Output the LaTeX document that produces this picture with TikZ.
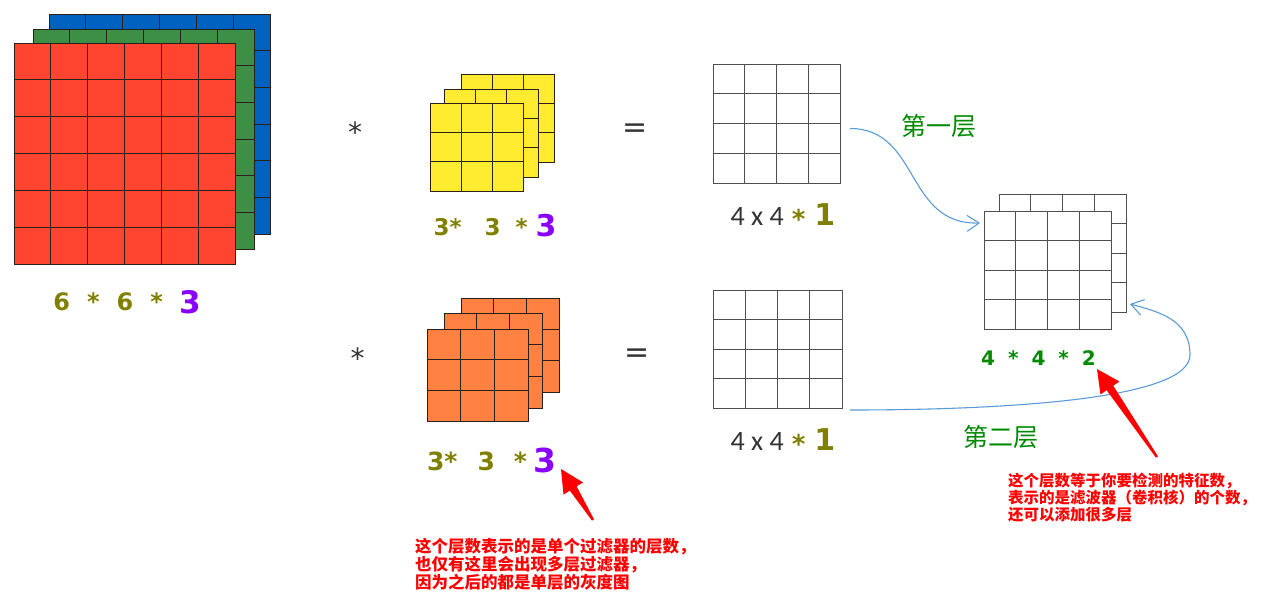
\documentclass[tikz,border=0pt]{standalone}
\usepackage{fontspec}
\setmainfont{DejaVu Sans}
\newfontfamily\calfont{Carlito}
\newfontfamily\cjkfont{Noto Sans CJK SC}
\usetikzlibrary{positioning,calc,arrows.meta}
\definecolor{inred}{HTML}{FF4530}
\definecolor{ingreen}{HTML}{3D8F45}
\definecolor{inblue}{HTML}{0062C0}
\definecolor{kyellow}{HTML}{FFEC30}
\definecolor{korange}{HTML}{FF8142}
\definecolor{gridink}{HTML}{2B1F1A}
\definecolor{mapink}{HTML}{4F4F4F}
\definecolor{olivetxt}{HTML}{808000}
\definecolor{purptxt}{HTML}{8A00FF}
\definecolor{greentxt}{HTML}{008A00}
\definecolor{darktxt}{HTML}{333333}
\definecolor{flowblue}{HTML}{5B9BD5}
\definecolor{markred}{HTML}{FF0000}

\begin{document}
\begin{tikzpicture}[x=1pt, y=-1pt,
  layer/.style={draw, inner sep=0pt, outer sep=0pt, anchor=north west, line width=1pt},
  cell/.style={line width=1pt},
  op/.style={inner sep=0pt, anchor=base, text=darktxt},
  numlbl/.style={inner sep=0pt, text=olivetxt, font=\bfseries\fontsize{24}{24}\selectfont},
  sizelbl/.style={inner sep=0pt, text=darktxt, font=\calfont\fontsize{28}{28}\selectfont},
  layertitle/.style={inner sep=0pt, anchor=base, text=greentxt, font=\cjkfont\fontsize{25}{25}\selectfont},
  note/.style={inner sep=0pt, anchor=base west, align=left, text=markred},
  flow/.style={flowblue, line width=1.1pt, -{Straight Barb[length=12pt, width=16pt]}},
  redmark/.style={fill=markred}]

\useasboundingbox (0,0) rectangle (1271,597);

% LAYERS
\foreach \nm/\x/\y/\w/\h/\n/\col/\lc in {bluech/49/14/221/220/6/inblue/gridink,
    greench/33/29/221/220/6/ingreen/gridink,
    redch/14/43/221/221/6/inred/gridink,
    yel3/461/74/93/88/3/kyellow/gridink,
    yel2/444/89/94/88/3/kyellow/gridink,
    yel1/430/103/93/88/3/kyellow/gridink,
    org3/461/298/98/94/3/korange/gridink,
    org2/444/313/98/95/3/korange/gridink,
    org1/427/329/101/92/3/korange/gridink,
    topmap/713/64/127/119/4/white/mapink,
    botmap/713/290/129/118/4/white/mapink,
    outback/999/194/127/118/4/white/mapink,
    outfront/984/211/127/118/4/white/mapink}
{
  \node[layer, fill=\col, draw=\lc, minimum width=\w, minimum height=\h] (\nm) at (\x,\y) {};
  \pgfmathtruncatemacro{\m}{\n-1}
  \foreach \i in {1,...,\m} {
    \draw[cell, draw=\lc] ($(\nm.north west)!\i/\n!(\nm.north east)$) -- ($(\nm.south west)!\i/\n!(\nm.south east)$);
    \draw[cell, draw=\lc] ($(\nm.north west)!\i/\n!(\nm.south west)$) -- ($(\nm.north east)!\i/\n!(\nm.south east)$);
  }
}

% OPERATORS
\node[op, font=\fontsize{28}{28}\selectfont] (mul1) at (355,142.5) {*};
\node[op, font=\fontsize{28}{28}\selectfont] (mul2) at (357.5,368) {*};
\node[op, font=\fontsize{30}{30}\selectfont] (eq1) at (635,137) {=};
\node[op, font=\fontsize{30}{30}\selectfont] (eq2) at (637,362.5) {=};

% SIZES
\node[numlbl, below=46pt of redch.south, anchor=base, xshift=3pt] (inlbl)
{6\hspace{17pt}*\hspace{17pt}6\hspace{17pt}*\hspace{17pt}{\color{purptxt}\fontsize{31}{31}\selectfont\raisebox{-3pt}{3}}};

\node[numlbl, font=\bfseries\fontsize{23}{23}\selectfont, below=44pt of yel1.south, anchor=base, xshift=18.5pt] (yellbl)
{3*\hspace{23pt}3\hspace{15pt}*\hspace{8pt}{\color{purptxt}\fontsize{30}{30}\selectfont\raisebox{-1.5pt}{3}}};

\node[numlbl, font=\bfseries\fontsize{25}{25}\selectfont, below=49pt of org1.south, anchor=base, xshift=14.5pt] (orglbl)
{3*\hspace{20pt}3\hspace{19pt}*\hspace{7pt}{\color{purptxt}\fontsize{33}{33}\selectfont\raisebox{-2pt}{3}}};

\node[sizelbl, below=42pt of topmap.south, anchor=base, xshift=6.5pt] (toplbl)
{4 x 4\hspace{8pt}{\color{olivetxt}\rmfamily\bfseries\fontsize{26}{26}\selectfont\raisebox{-3pt}{*}}\hspace{9pt}{\color{olivetxt}\rmfamily\bfseries\fontsize{30}{30}\selectfont 1}};

\node[sizelbl, below=42pt of botmap.south, anchor=base, xshift=5.5pt] (botlbl)
{4 x 4\hspace{8pt}{\color{olivetxt}\rmfamily\bfseries\fontsize{26}{26}\selectfont\raisebox{-3pt}{*}}\hspace{9pt}{\color{olivetxt}\rmfamily\bfseries\fontsize{30}{30}\selectfont 1}};

\node[numlbl, text=greentxt, font=\bfseries\fontsize{20}{20}\selectfont, below=36pt of outfront.south, anchor=base, xshift=-9pt] (outlbl)
{4\hspace{13pt}*\hspace{13pt}4\hspace{13pt}*\hspace{13pt}2};

% FLOWS
\node[layertitle] (first) at (938.5,135) {第一层};
\node[layertitle] (second) at (1001,446) {第二层};

\draw[flow] ($(topmap.east)+(10,5)$) .. controls +(70,0) and +(-75,2) .. ($(outfront.north west)+(-4,12)$);
\draw[flow] ($(botmap.south east)+(8,2)$) .. controls +(150,0) and +(0,45) .. ($(outback.south east)+(64,43)$)
  .. controls +(0,-35) and +(30,8) .. ($(outback.south east)+(4,-8)$);

% NOTES
\node[note, font=\cjkfont\bfseries\fontsize{16.5}{18}\selectfont] (note1) at (415,588)
{这个层数表示的是单个过滤器的层数，\\也仅有这里会出现多层过滤器，\\因为之后的都是单层的灰度图};

\node[note, font=\cjkfont\bfseries\fontsize{15.5}{17}\selectfont] (note2) at (1008,520)
{这个层数等于你要检测的特征数，\\表示的是滤波器（卷积核）的个数，\\还可以添加很多层};

\coordinate (tail1) at (593,520);
\coordinate (tip1) at (561,469);
\coordinate (tail2) at (1157,457);
\coordinate (tip2) at (1097,369);

\foreach \k in {1,2} {
  \coordinate (hb\k) at ($(tip\k)!23pt!(tail\k)$);
  \fill[redmark] ($(tail\k)!1.2pt!90:(tip\k)$) -- ($(hb\k)!4pt!90:(tip\k)$) -- ($(hb\k)!11.5pt!90:(tip\k)$) -- (tip\k)
    -- ($(hb\k)!11.5pt!-90:(tip\k)$) -- ($(hb\k)!4pt!-90:(tip\k)$) -- ($(tail\k)!1.2pt!-90:(tip\k)$) -- cycle;
}

\end{tikzpicture}
\end{document}
